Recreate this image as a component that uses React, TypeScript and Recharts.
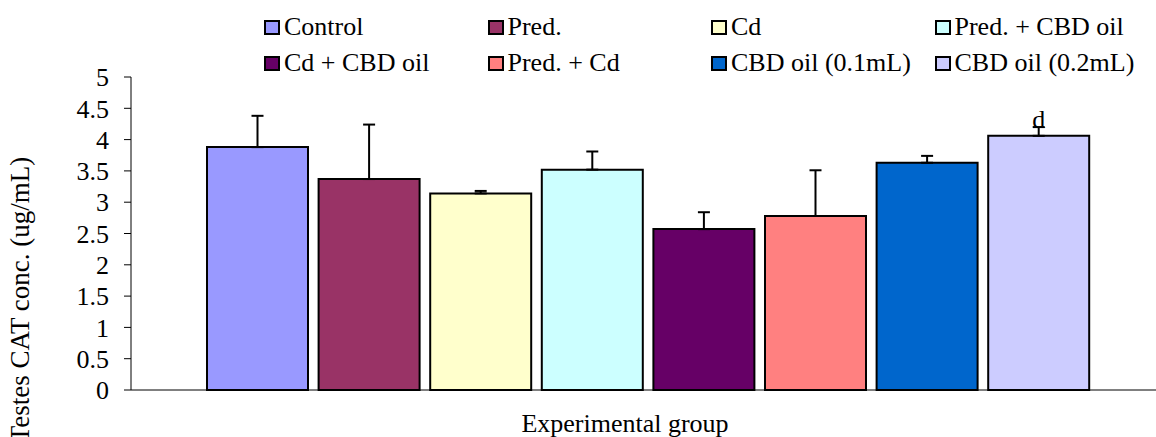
import React from 'react';
import { BarChart, Bar, XAxis, YAxis, ErrorBar, Legend, LabelList, Label } from 'recharts';

const FONT = '"Liberation Serif", "Times New Roman", serif';

const category = 'Experimental group';
const groups = [
  'Control',
  'Pred.',
  'Cd',
  'Pred. + CBD oil',
  'Cd + CBD oil',
  'Pred. + Cd',
  'CBD oil (0.1mL)',
  'CBD oil (0.2mL)',
];
const means = [3.88, 3.37, 3.14, 3.52, 2.57, 2.78, 3.63, 4.06];
const errors = [0.5, 0.87, 0.04, 0.29, 0.27, 0.73, 0.11, 0.14];
const sigLetters = ['', '', '', '', '', '', '', 'd'];
const colors = ['#9999FF', '#993366', '#FFFFCC', '#CCFFFF', '#660066', '#FF8080', '#0066CC', '#CCCCFF'];
const yTicks = [0, 0.5, 1, 1.5, 2, 2.5, 3, 3.5, 4, 4.5, 5];
const yLabel = 'Testes CAT conc. (ug/mL)';

const row: Record<string, any> = { group: category };
groups.forEach((_, i) => {
  row[`s${i}`] = means[i];
  row[`e${i}`] = [0, errors[i]];
  row[`l${i}`] = sigLetters[i];
});
const data = [row];

const renderLegend = () => (
  <div style={{ position: 'relative', width: '100%', height: 77, fontFamily: FONT, fontSize: 26, color: '#000' }}>
    {groups.map((g, i) => (
      <div
        key={g}
        style={{
          position: 'absolute',
          left: 264 + (i % 4) * 223.5,
          top: 12 + Math.floor(i / 4) * 36,
          height: 30,
          lineHeight: '30px',
          display: 'flex',
          alignItems: 'center',
          whiteSpace: 'nowrap',
        }}
      >
        <span
          style={{
            display: 'inline-block',
            width: 12,
            height: 11,
            border: '2px solid #000',
            background: colors[i],
            marginRight: 4,
          }}
        />
        <span>{g}</span>
      </div>
    ))}
  </div>
);

export default function App() {
  return (
    <div style={{ position: 'absolute', left: 0, top: 0, width: 1156, height: 437, overflow: 'hidden', background: '#fff' }}>
      <BarChart
        width={1165}
        height={437}
        data={data}
        margin={{ top: 0, right: 0, bottom: 0, left: 0 }}
        barGap={10.6}
        style={{ fontFamily: FONT }}
      >
        <Legend
          verticalAlign="top"
          align="left"
          content={renderLegend}
          wrapperStyle={{ top: 0, left: 0, height: 77, width: 1165 }}
        />
        <XAxis
          xAxisId="edge"
          type="number"
          domain={[0, 1]}
          ticks={[0]}
          height={0}
          axisLine={false}
          tickLine={{ stroke: '#000' }}
          tickSize={8}
          tickFormatter={() => ''}
          allowDataOverflow
        />
        <XAxis dataKey="group" height={47} axisLine={{ stroke: '#000' }} tickLine={false} tick={false}>
          <Label
            content={(props: any) => {
              const vb = props.viewBox;
              return (
                <text x={vb.x + vb.width / 2 - 23} y={vb.y + 42} textAnchor="middle" fontFamily={FONT} fontSize={26} fill="#000">
                  {category}
                </text>
              );
            }}
          />
        </XAxis>
        <YAxis
          width={131}
          domain={[0, 5]}
          ticks={yTicks}
          interval={0}
          axisLine={{ stroke: '#000' }}
          tickLine={{ stroke: '#000' }}
          tickSize={7}
          tickMargin={15}
          tick={{ fill: '#000', fontSize: 26, fontFamily: FONT }}
        >
          <Label
            content={(props: any) => {
              const vb = props.viewBox;
              const x = 29;
              const y = vb.y + vb.height / 2 + 66;
              return (
                <text x={x} y={y} transform={`rotate(-90, ${x}, ${y})`} textAnchor="middle" fontFamily={FONT} fontSize={27} fill="#000">
                  {yLabel}
                </text>
              );
            }}
          />
        </YAxis>
        {groups.map((g, i) => (
          <Bar
            key={g}
            dataKey={`s${i}`}
            name={g}
            fill={colors[i]}
            stroke="#000"
            strokeWidth={2}
            barSize={101}
            isAnimationActive={false}
          >
            <ErrorBar dataKey={`e${i}`} width={6} stroke="#000" strokeWidth={2} direction="y" isAnimationActive={false} />
            {sigLetters[i] ? (
              <LabelList dataKey={`l${i}`} position="top" offset={8} fill="#000" fontSize={26} fontFamily={FONT} />
            ) : null}
          </Bar>
        ))}
      </BarChart>
    </div>
  );
}
